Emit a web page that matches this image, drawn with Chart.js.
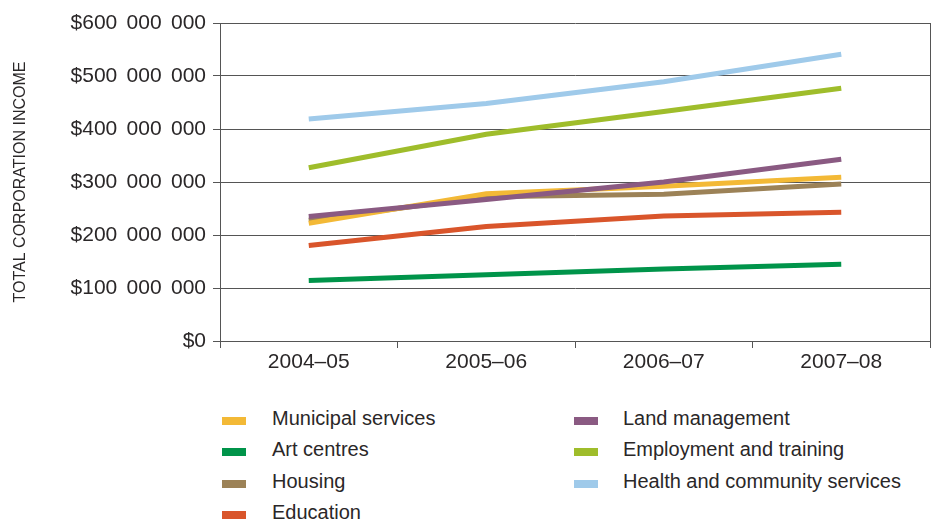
<!DOCTYPE html>
<html>
<head>
<meta charset="utf-8">
<script src="https://cdn.jsdelivr.net/npm/chart.js@4"></script>
<style>
  body { margin: 0; background: #fff; font-family: "Liberation Sans", Arial, sans-serif; }
  #wrap { position: relative; width: 935px; height: 525px; }
  #chartBox { position: absolute; left: 0; top: 0; width: 935px; height: 380px; }
  #legend .sw { position: absolute; width: 24px; height: 8px; }
  #legend .lb { position: absolute; font-size: 20px; line-height: 24px; color: #2a2728; white-space: nowrap; }
</style>
</head>
<body>
<div id="wrap">
  <div id="chartBox"><canvas id="incomeChart"></canvas></div>
  <div id="legend"></div>
</div>
<script>
// Total corporation income by activity, per financial year
const years = ['2004–05', '2005–06', '2006–07', '2007–08'];

const municipal  = [222000000, 278000000, 292000000, 309000000];
const artCentres = [114000000, 125000000, 136000000, 145000000];
const housing    = [228000000, 272000000, 277000000, 296000000];
const education  = [180000000, 216000000, 236000000, 243000000];
const landMgmt   = [235000000, 267000000, 300000000, 343000000];
const employment = [327000000, 390000000, 433000000, 477000000];
const health     = [419000000, 448000000, 489000000, 541000000];

const seriesNames = ['Municipal services', 'Art centres', 'Housing', 'Education',
  'Land management', 'Employment and training', 'Health and community services'];
const seriesData = [municipal, artCentres, housing, education, landMgmt, employment, health];
const seriesColors = ['#f3b936', '#00944a', '#9c8257', '#d9552b', '#8a5a82', '#9fbd2b', '#9fcaea'];
// lower = drawn on top
const drawOrder = [3, 6, 4, 5, 1, 2, 0];

const FONT = "'Liberation Sans', Arial, sans-serif";
const AXIS = '#555';
const TEXT = '#2a2728';

// thousands grouped with a slightly widened space: $600 000 000
function money(v) {
  return '$' + String(v).replace(/\B(?=(\d{3})+(?!\d))/g, ' \u2006');
}

const datasets = seriesNames.map((name, i) => ({
  label: name,
  data: seriesData[i],
  borderColor: seriesColors[i],
  backgroundColor: seriesColors[i],
  borderWidth: 5,
  borderCapStyle: 'butt',
  pointRadius: 0,
  tension: 0,
  order: drawOrder[i]
}));

new Chart(document.getElementById('incomeChart'), {
  type: 'line',
  data: { labels: years, datasets: datasets },
  options: {
    responsive: true,
    maintainAspectRatio: false,
    animation: false,
    layout: { padding: { top: 23, right: 5, bottom: 0, left: 0 } },
    plugins: { legend: { display: false }, tooltip: { enabled: false } },
    scales: {
      x: {
        offset: true,
        grid: {
          offset: true,
          drawTicks: true,
          tickLength: 7,
          color: ctx => ctx.index === undefined ? AXIS : 'rgba(0,0,0,0)',
          tickColor: AXIS
        },
        border: { color: AXIS, width: 1 },
        ticks: { color: TEXT, font: { family: FONT, size: 21 }, padding: 2 },
        afterFit: scale => { scale.height = 39; }
      },
      y: {
        min: 0,
        max: 600000000,
        grid: { color: AXIS, tickLength: 7, tickColor: AXIS },
        border: { color: AXIS, width: 1 },
        ticks: {
          stepSize: 100000000,
          color: TEXT,
          font: { family: FONT, size: 21 },
          padding: 7,
          callback: v => money(v)
        },
        title: {
          display: true,
          text: 'TOTAL CORPORATION INCOME',
          color: TEXT,
          font: { family: FONT, size: 16 },
          padding: { top: 11, bottom: 0 }
        },
        afterFit: scale => { scale.width = 220; }
      }
    }
  }
});

// two-column legend, filled column by column
const legend = document.getElementById('legend');
const rowCenters = [420, 451, 483, 514];
seriesNames.forEach((name, i) => {
  const col = i < 4 ? 0 : 1;
  const row = i < 4 ? i : i - 4;
  const cy = rowCenters[row];
  const sw = document.createElement('div');
  sw.className = 'sw';
  sw.style.left = (col ? 574 : 222) + 'px';
  sw.style.top = (cy - 3) + 'px';
  sw.style.background = seriesColors[i];
  const lb = document.createElement('div');
  lb.className = 'lb';
  lb.style.left = (col ? 623 : 272) + 'px';
  lb.style.top = (cy - 14) + 'px';
  lb.textContent = name;
  legend.appendChild(sw);
  legend.appendChild(lb);
});
</script>
</body>
</html>
